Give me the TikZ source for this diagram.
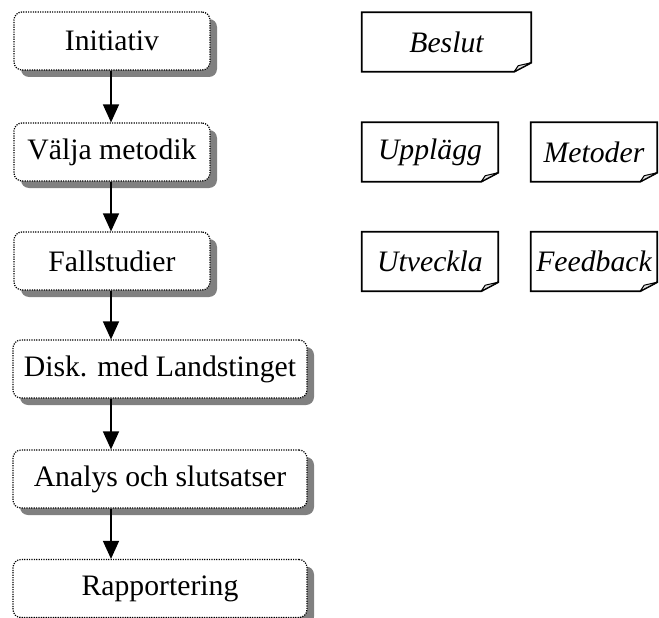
\documentclass[tikz,border=0pt]{standalone}
\usepackage{fontspec}
\setmainfont{Liberation Serif}
\usetikzlibrary{arrows.meta,shadows,calc}

\tikzset{
  stepbox/.style={draw, rounded corners=8pt, line width=1.2pt,
    dash pattern=on 1.2pt off 1.2pt, fill=white, minimum height=58pt,
    inner sep=0pt, font=\fontsize{29.7}{34}\selectfont,
    drop shadow={shadow xshift=7pt, shadow yshift=-7pt, fill=black!50, opacity=1}},
  narrowbox/.style={stepbox, minimum width=196pt},
  widebox/.style={stepbox, minimum width=294pt},
  notebox/.style={minimum height=59pt, inner sep=0pt,
    font=\fontsize{29.7}{34}\selectfont\itshape},
  flowarrow/.style={line width=1.5pt, -{Triangle[length=18pt,width=16pt]}},
  noteline/.style={line width=1.8pt, line join=miter}
}

% outline of a sheet with a curled lower right corner
\newcommand{\curlnote}[1]{%
  \draw[noteline] (#1.north west) -- (#1.north east) -- ($(#1.south east)+(0,-9)$)
     -- ($(#1.south east)+(-17,0)$) -- (#1.south west) -- cycle;
  \filldraw[line width=1pt, fill=black!12, line join=round]
     ($(#1.south east)+(-17,0)$) -- ($(#1.south east)+(-13,-6)$)
     -- ($(#1.south east)+(0,-9)$) -- cycle;
}

\begin{document}
\begin{tikzpicture}[x=1pt, y=-1pt]
\useasboundingbox (0,0) rectangle (659,618);

% process steps
\node[narrowbox] (b1) at (112,41)  {Initiativ};
\node[narrowbox] (b2) at (112,152) {Välja metodik};
\node[narrowbox] (b3) at (112,261) {Fallstudier};
\node[widebox]   (b4) at (160,369) {Disk. med Landstinget};
\node[widebox]   (b5) at (160,479) {Analys och slutsatser};
\node[widebox]   (b6) at (160,588.5) {Rapportering};

% notes
\node[notebox, minimum width=169pt] (n1) at (446.5,42)  {Beslut};
\node[notebox, minimum width=136pt] (n2) at (430,152)   {Upplägg};
\node[notebox, minimum width=126pt] (n3) at (594,152)   {Metoder};
\node[notebox, minimum width=136pt] (n4) at (430,261.5) {Utveckla};
\node[notebox, minimum width=126pt] (n5) at (594,261.5) {Feedback};
\foreach \n in {n1,n2,n3,n4,n5} {\curlnote{\n}}

% connectors along the column
\coordinate (ax) at (111,0);
\draw[flowarrow] (ax |- b1.south) -- (ax |- b2.north);
\draw[flowarrow] (ax |- b2.south) -- (ax |- b3.north);
\draw[flowarrow] (ax |- b3.south) -- (ax |- b4.north);
\draw[flowarrow] (ax |- b4.south) -- (ax |- b5.north);
\draw[flowarrow] (ax |- b5.south) -- (ax |- b6.north);
\end{tikzpicture}
\end{document}
